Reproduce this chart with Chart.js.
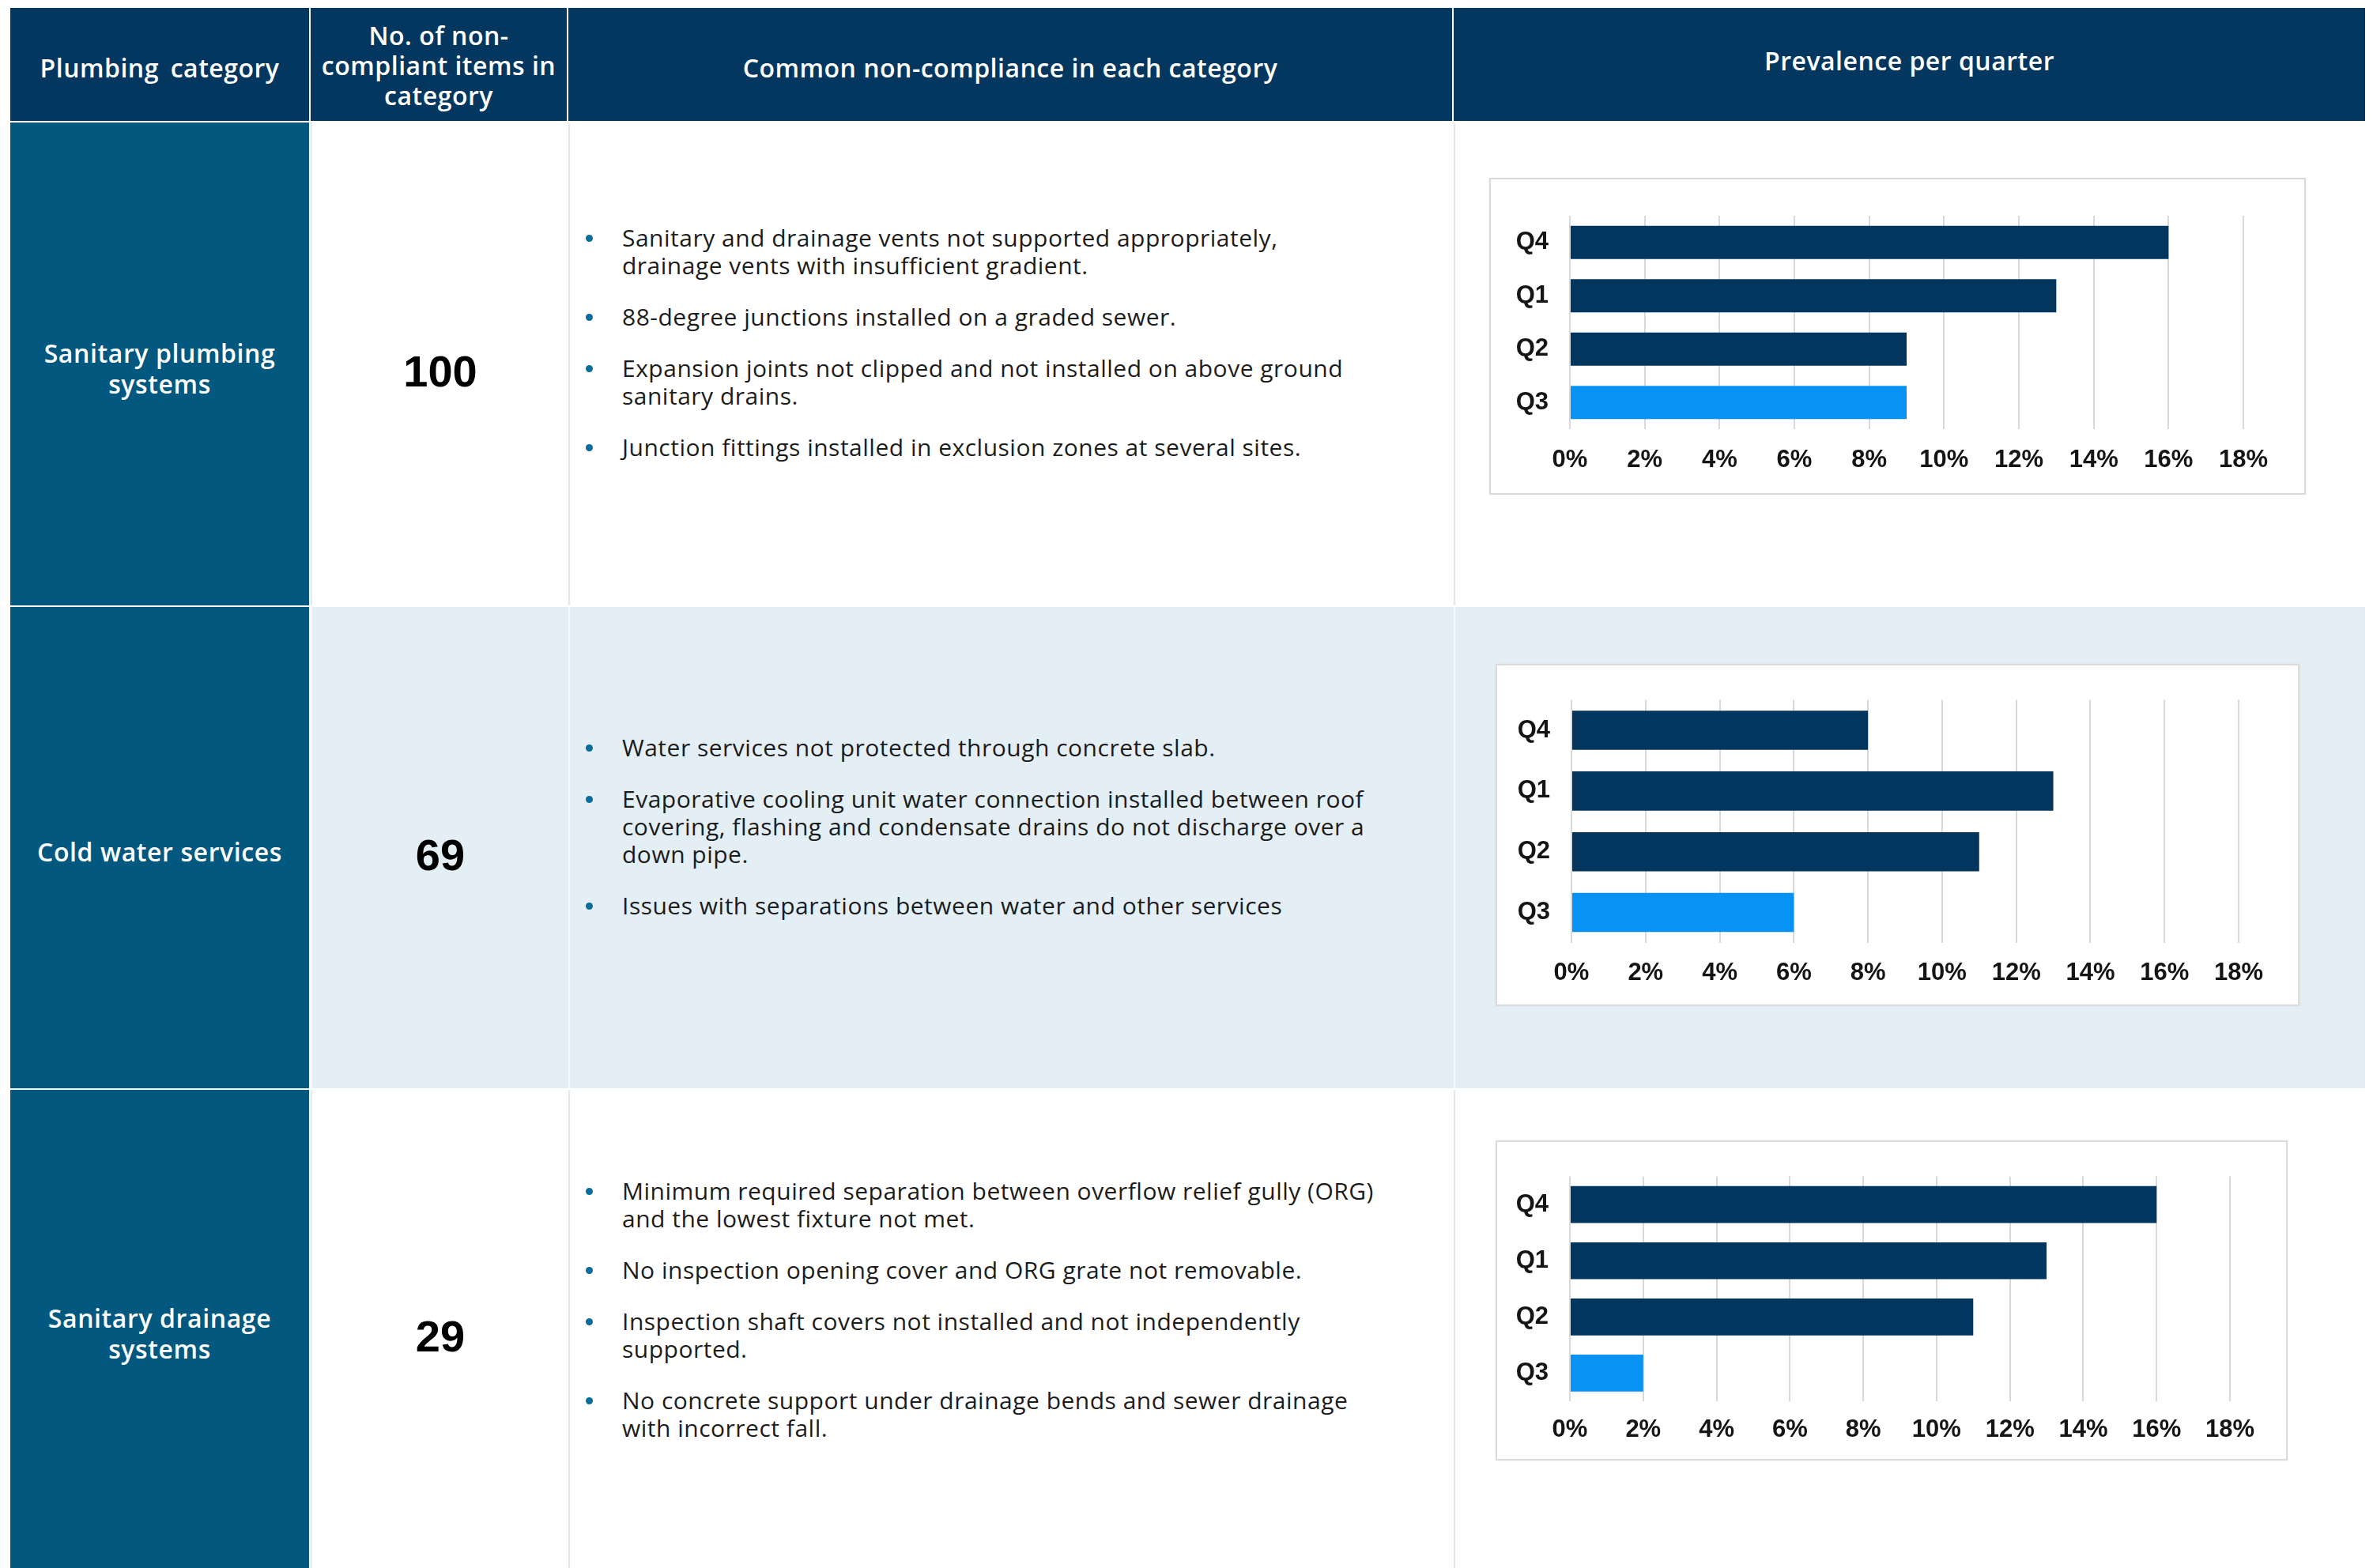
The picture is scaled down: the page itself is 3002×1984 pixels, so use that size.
<!DOCTYPE html>
<html>
<head>
<meta charset="utf-8">
<title>Plumbing non-compliance by category</title>
<script src="https://cdn.jsdelivr.net/npm/chart.js@4.4.1/dist/chart.umd.min.js"></script>
<style>
  html, body { margin: 0; padding: 0; }
  body {
    width: 3002px; height: 1984px; overflow: hidden; position: relative;
    background: #ffffff; font-family: 'Open Sans', 'Noto Sans', sans-serif; color: #1c1c1c;
  }
  .cell { position: absolute; box-sizing: border-box; display: flex; align-items: center; justify-content: center; text-align: center; }
  .hdr { background: #03375f; color: #fff; font-weight: 600; font-size: 32px; letter-spacing: 0.5px; line-height: 38px; }
  .cat { background: #02587f; color: #fff; font-weight: 600; font-size: 32px; letter-spacing: 0.6px; line-height: 39px; }
  .plain { background: #ffffff; border-left: 2px solid #e3e9ee; }
  .alt { background: #e3eef5; border-left: 2px solid #f4f8fb; }
  .num { font-family: 'Liberation Sans', Arial, sans-serif; font-weight: 700; font-size: 56px; color: #000; }
  ul.items { position: absolute; left: 787px; margin: 0; padding: 0; list-style: none; font-size: 30px; letter-spacing: 0.5px; line-height: 35px; white-space: nowrap; color: #1c1c1c; }
  ul.items li { position: relative; margin: 0 0 30px 0; }
  ul.items li::before { content: ''; position: absolute; left: -46px; top: 14px; width: 9px; height: 9px; border-radius: 50%; background: #0a6c9b; }
  .box { position: absolute; box-sizing: border-box; background: #fff; border: 2px solid #dadada; box-shadow: 0 0 3px rgba(0,0,0,0.06); }
  canvas.chart { position: absolute; }
</style>
</head>
<body>
<script>
// Quarter order as listed on each chart (top to bottom)
const quarters = ['Q4', 'Q1', 'Q2', 'Q3'];
// Share of non-compliant items per quarter (%)
const sanitaryPlumbingShare = [16, 13, 9, 9];
const coldWaterShare = [8, 13, 11, 6];
const sanitaryDrainageShare = [16, 13, 11, 2];
// Percentage axis ticks
const percentTicks = [0, 2, 4, 6, 8, 10, 12, 14, 16, 18];
const tickSuffix = '%';

// Table content
const headers = ['Plumbing category', 'No. of non-<br>compliant items in<br>category', 'Common non-compliance in each category', 'Prevalence per quarter'];
const categories = ['Sanitary plumbing<br>systems', 'Cold water services', 'Sanitary drainage<br>systems'];
const itemCounts = [100, 69, 29];
const issues = [
  ['Sanitary and drainage vents not supported appropriately,<br>drainage vents with insufficient gradient.',
   '88-degree junctions installed on a graded sewer.',
   'Expansion joints not clipped and not installed on above ground<br>sanitary drains.',
   'Junction fittings installed in exclusion zones at several sites.'],
  ['Water services not protected through concrete slab.',
   'Evaporative cooling unit water connection installed between roof<br>covering, flashing and condensate drains do not discharge over a<br>down pipe.',
   'Issues with separations between water and other services'],
  ['Minimum required separation between overflow relief gully (ORG)<br>and the lowest fixture not met.',
   'No inspection opening cover and ORG grate not removable.',
   'Inspection shaft covers not installed and not independently<br>supported.',
   'No concrete support under drainage bends and sewer drainage<br>with incorrect fall.']
];
const shares = [sanitaryPlumbingShare, coldWaterShare, sanitaryDrainageShare];

// ---- layout ----
const colX = [13, 393, 719, 1839, 2992];
const headerY = [10, 153];
const rowY = [[155, 766], [768, 1377], [1379, 1984]];
const rowAlt = [false, true, false];
const listTop = [283, 928, 1489];

function addCell(cls, x0, x1, y0, y1, html, extraStyle) {
  const d = document.createElement('div');
  d.className = 'cell ' + cls;
  d.style.left = x0 + 'px'; d.style.top = y0 + 'px';
  d.style.width = (x1 - x0) + 'px'; d.style.height = (y1 - y0) + 'px';
  if (extraStyle) d.style.cssText += extraStyle;
  d.innerHTML = html;
  document.body.appendChild(d);
  return d;
}

// header row
headers.forEach((h, i) => {
  const x1 = i < 3 ? colX[i + 1] - 2 : colX[i + 1];
  const shift = i === 3 ? 'padding-bottom:10px;' : (i === 1 ? 'padding-top:2px;' : 'padding-top:9px;');
  addCell('hdr', colX[i], x1, headerY[0], headerY[1], h, shift + (i === 0 ? 'word-spacing:6px;' : ''));
});

// body rows
rowY.forEach(([y0, y1], r) => {
  addCell('cat', colX[0], colX[1] - 2, y0, y1, categories[r], 'padding-top:10px;');
  const bg = rowAlt[r] ? 'alt' : 'plain';
  addCell(bg + ' num', colX[1], colX[2], y0, y1, String(itemCounts[r]), 'padding-top:18px;');
  addCell(bg, colX[2], colX[3], y0, y1, '');
  addCell(bg, colX[3], colX[4], y0, y1, '');
  const ul = document.createElement('ul');
  ul.className = 'items';
  ul.style.top = listTop[r] + 'px';
  issues[r].forEach(t => { const li = document.createElement('li'); li.innerHTML = t; ul.appendChild(li); });
  document.body.appendChild(ul);
});

// ---- charts ----
const darkBar = '#02365f';
const highlightBar = '#0892f4';
const chartFrames = [
  { x: 1884, y: 225, w: 1033, h: 401, axisW: 102, axisH: 83, top: 48, right: 79, bar: 0.62, pad: 21 },
  { x: 1892, y: 840, w: 1017, h: 433, axisW: 96, axisH: 80, top: 43, right: 77, bar: 0.645, pad: 20 },
  { x: 1892, y: 1443, w: 1002, h: 405, axisW: 94, axisH: 75, top: 44, right: 73, bar: 0.657, pad: 18 }
];
const tickFont = { family: "'Liberation Sans', Arial, sans-serif", weight: 'bold', size: 31 };

chartFrames.forEach((f, i) => {
  const box = document.createElement('div');
  box.className = 'box';
  box.style.cssText += `left:${f.x}px;top:${f.y}px;width:${f.w}px;height:${f.h}px;`;
  document.body.appendChild(box);
  const cv = document.createElement('canvas');
  cv.className = 'chart';
  cv.width = f.w; cv.height = f.h;
  cv.style.left = f.x + 'px'; cv.style.top = f.y + 'px';
  cv.style.width = f.w + 'px'; cv.style.height = f.h + 'px';
  document.body.appendChild(cv);

  new Chart(cv, {
    type: 'bar',
    data: {
      labels: quarters,
      datasets: [{
        data: shares[i],
        backgroundColor: quarters.map(q => q === 'Q3' ? highlightBar : darkBar),
        borderWidth: 0,
        barPercentage: f.bar,
        categoryPercentage: 1
      }]
    },
    options: {
      indexAxis: 'y',
      responsive: false,
      animation: false,
      devicePixelRatio: 1,
      layout: { padding: { top: f.top, right: f.right, left: 0, bottom: 0 } },
      plugins: { legend: { display: false }, tooltip: { enabled: false } },
      scales: {
        x: {
          min: percentTicks[0],
          max: percentTicks[percentTicks.length - 1],
          afterBuildTicks: s => { s.ticks = percentTicks.map(v => ({ value: v })); },
          afterFit: s => { s.height = f.axisH; },
          grid: { color: '#d9d9d9', lineWidth: 2, drawTicks: false },
          border: { display: false },
          ticks: { callback: v => v + tickSuffix, font: tickFont, color: '#151515', padding: f.pad, maxRotation: 0, autoSkip: false }
        },
        y: {
          afterFit: s => { s.width = f.axisW; },
          grid: { display: false, drawTicks: false },
          border: { display: false },
          ticks: { font: tickFont, color: '#151515', padding: 27 }
        }
      }
    }
  });
});
</script>
</body>
</html>
